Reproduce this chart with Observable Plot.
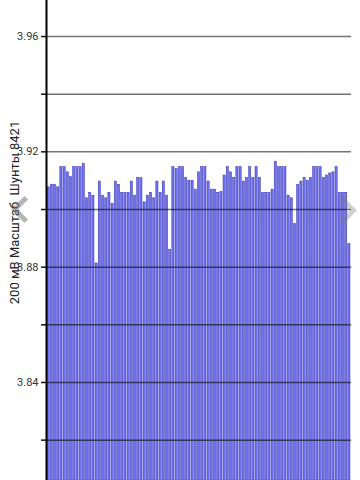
<!DOCTYPE html>
<html><head><meta charset="utf-8">
<script src="https://cdn.jsdelivr.net/npm/d3@7"></script>
<script src="https://cdn.jsdelivr.net/npm/@observablehq/plot@0.6"></script>
<style>
html,body{margin:0;padding:0;background:#fff;width:360px;height:480px;overflow:hidden;}
#wrap{position:relative;width:360px;height:480px;}
.chev{position:absolute;box-sizing:border-box;width:19px;height:19px;}
#cl{left:15px;top:200px;border-left:5px solid rgba(120,120,120,0.55);border-bottom:5px solid rgba(120,120,120,0.55);transform:rotate(45deg);}
#cr{left:334px;top:201px;border-right:5px solid rgba(120,120,120,0.35);border-top:5px solid rgba(120,120,120,0.35);transform:rotate(45deg);}
</style></head><body><div id="wrap"></div>
<script>
const values = [
  3.9077, 3.9086, 3.9086, 3.9077, 3.9147, 3.9147, 3.9129, 3.9112, 3.9147, 3.9147,
  3.9147, 3.9159, 3.9039, 3.9058, 3.9048, 3.8813, 3.9097, 3.9048, 3.9039, 3.9058,
  3.9020, 3.9097, 3.9086, 3.9058, 3.9058, 3.9058, 3.9097, 3.9048, 3.9109, 3.9109,
  3.9025, 3.9048, 3.9058, 3.9039, 3.9097, 3.9058, 3.9097, 3.9048, 3.8860, 3.9147,
  3.9140, 3.9147, 3.9147, 3.9109, 3.9100, 3.9100, 3.9069, 3.9129, 3.9147, 3.9147,
  3.9097, 3.9069, 3.9069, 3.9058, 3.9060, 3.9118, 3.9147, 3.9129, 3.9110, 3.9147,
  3.9147, 3.9097, 3.9110, 3.9147, 3.9110, 3.9147, 3.9110, 3.9058, 3.9058, 3.9058,
  3.9069, 3.9166, 3.9147, 3.9147, 3.9147, 3.9048, 3.9039, 3.8950, 3.9085, 3.9097,
  3.9110, 3.9100, 3.9110, 3.9147, 3.9147, 3.9147, 3.9110, 3.9118, 3.9125, 3.9129,
  3.9147, 3.9058, 3.9058, 3.9058, 3.8880
];
const gridTicks = [3.82, 3.84, 3.86, 3.88, 3.90, 3.92, 3.94, 3.96];
const labelTicks = [3.84, 3.88, 3.92, 3.96];
const yLabel = "200 мВ Масштаб  Шунты 8421";
const yDomain = [3.806, 3.9725];

const bars = values.map((v, i) => ({i: i + 1, v}));

const chart = Plot.plot({
  width: 360, height: 480,
  marginLeft: 46, marginRight: 9, marginTop: 0, marginBottom: 0,
  style: {fontFamily: "Roboto", fontSize: "11px", color: "#333", background: "transparent"},
  x: {type: "band", domain: bars.map(d => d.i), padding: 0.32, round: false, axis: null},
  y: {domain: yDomain, axis: null},
  marks: [
    Plot.rectY(bars, {x: "i", y1: yDomain[0], y2: "v", fill: "#7272ee", stroke: "#3636b4", strokeWidth: 0.5}),
    Plot.ruleY(gridTicks, {stroke: "#000", strokeOpacity: 0.55, strokeWidth: 1.5}),
    Plot.axisY(gridTicks, {tickSize: 5, tickFormat: () => "", stroke: "#111", strokeWidth: 1.5, label: null}),
    Plot.axisY(labelTicks, {tickSize: 0, tickPadding: 8, tickFormat: d => d.toFixed(2), fill: "#333", fontSize: 11, label: null}),
    Plot.frame({anchor: "left", stroke: "#000", strokeWidth: 2}),
    Plot.text([yLabel], {text: d => d, frameAnchor: "left", textAnchor: "middle", rotate: -90, dx: -32, dy: -28, fontSize: 13, fill: "#222"})
  ]
});
const wrap = document.getElementById("wrap");
wrap.appendChild(chart);
const cl = document.createElement("div"); cl.className = "chev"; cl.id = "cl"; wrap.appendChild(cl);
const cr = document.createElement("div"); cr.className = "chev"; cr.id = "cr"; wrap.appendChild(cr);
chart.style.position = "absolute"; chart.style.left = "0"; chart.style.top = "0";
</script>
</body></html>
